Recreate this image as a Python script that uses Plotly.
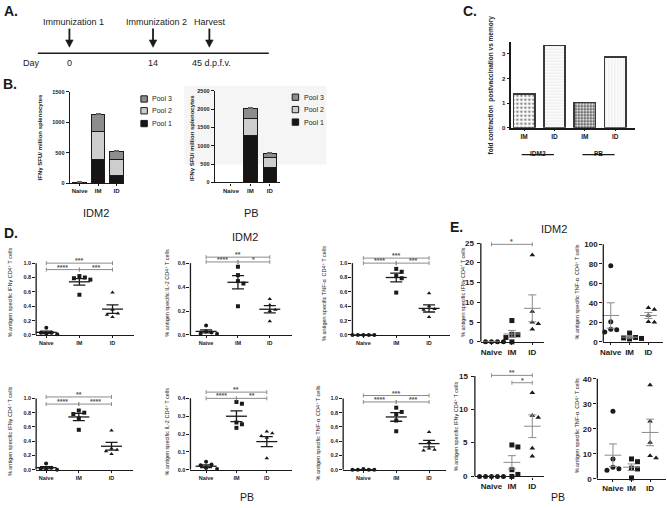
import numpy as np
import plotly.graph_objects as go

W, H = 667, 508
FONT = "Liberation Sans, Arial, sans-serif"
BLACK = "#1a1a1a"
GRAY = "#8c8c8c"

# ---------------- data ----------------
groups = ["Naive", "IM", "ID"]
pools = ["Pool 1", "Pool 2", "Pool 3"]

# Panel B: IFN-gamma SFU / million splenocytes, stacked by peptide pool
b_idm2_pool1 = [2, 395, 125]
b_idm2_pool2 = [1, 445, 270]
b_idm2_pool3 = [1, 280, 120]
b_idm2_err1 = [18, 108, 43]
b_idm2_err2 = [0, 38, 70]
b_idm2_err3 = [0, 28, 21]

b_pb_pool1 = [2, 1270, 420]
b_pb_pool2 = [1, 480, 270]
b_pb_pool3 = [1, 280, 100]
b_pb_err1 = [8, 125, 115]
b_pb_err2 = [0, 45, 20]
b_pb_err3 = [0, 20, 35]

# Panel C: fold contraction postvaccination vs memory
c_labels = ["IM", "ID", "IM", "ID"]
c_fold = [1.38, 3.35, 1.03, 2.87]
c_groups = ["IDM2", "PB"]

# Panel A: timeline
a_events = ["Immunization 1", "Immunization 2", "Harvest"]
a_days = ["0", "14", "45 d.p.f.v."]

# Panel D: % antigen specific CD4+ T cells (Naive, IM, ID)
d_idm2_ifng = [[0.10, 0.03, 0.03, 0.02, 0.01], [0.82, 0.80, 0.79, 0.77, 0.56], [0.59, 0.35, 0.30, 0.28, 0.25]]
d_idm2_ifng_mean = [0.037, 0.74, 0.36]
d_idm2_ifng_sem = [0.016, 0.045, 0.06]
d_idm2_ifng_sig = [(0, 2, 1.0, "***"), (0, 1, 0.91, "****"), (1, 2, 0.91, "***")]

d_idm2_il2 = [[0.08, 0.03, 0.02, 0.01, 0.01], [0.57, 0.50, 0.45, 0.43, 0.24], [0.30, 0.25, 0.21, 0.20, 0.115]]
d_idm2_il2_mean = [0.03, 0.44, 0.215]
d_idm2_il2_sem = [0.013, 0.055, 0.03]
d_idm2_il2_sig = [(0, 2, 0.65, "**"), (0, 1, 0.61, "****"), (1, 2, 0.61, "*")]

d_idm2_tnf = [[0, 0, 0, 0, 0], [0.92, 0.88, 0.82, 0.79, 0.59], [0.58, 0.40, 0.36, 0.35, 0.25]]
d_idm2_tnf_mean = [0.0, 0.80, 0.37]
d_idm2_tnf_sem = [0.0, 0.06, 0.05]
d_idm2_tnf_sig = [(0, 2, 1.07, "***"), (0, 1, 1.0, "****"), (1, 2, 1.0, "***")]

d_pb_ifng = [[0.09, 0.03, 0.02, 0.01, 0.0], [0.83, 0.80, 0.78, 0.72, 0.56], [0.55, 0.30, 0.28, 0.26, 0.22]]
d_pb_ifng_mean = [0.03, 0.74, 0.33]
d_pb_ifng_sem = [0.016, 0.05, 0.055]
d_pb_ifng_sig = [(0, 2, 1.02, "**"), (0, 1, 0.92, "****"), (1, 2, 0.92, "****")]

d_pb_il2 = [[0.045, 0.03, 0.025, 0.01, 0.005], [0.38, 0.37, 0.265, 0.255, 0.235], [0.215, 0.205, 0.19, 0.18, 0.065]]
d_pb_il2_mean = [0.02, 0.30, 0.158]
d_pb_il2_sem = [0.008, 0.03, 0.028]
d_pb_il2_sig = [(0, 2, 0.435, "**"), (0, 1, 0.40, "****"), (1, 2, 0.40, "**")]

d_pb_tnf = [[0.01, 0, 0, 0, 0], [0.87, 0.81, 0.78, 0.69, 0.54], [0.53, 0.39, 0.30, 0.28, 0.27]]
d_pb_tnf_mean = [0.002, 0.74, 0.367]
d_pb_tnf_sem = [0.002, 0.06, 0.046]
d_pb_tnf_sig = [(0, 2, 1.04, "***"), (0, 1, 0.95, "****"), (1, 2, 0.95, "***")]

# Panel E
e_idm2_ifng = [[0, 0, 0, 0, 0], [5.4, 1.9, 1.8, 1.1, 0.0], [22.0, 7.7, 5.0, 4.6, 3.2]]
e_idm2_ifng_mean = [0, 2.0, 8.5]
e_idm2_ifng_sem = [0, 0.9, 3.4]
e_idm2_ifng_sig = [(0, 2, 24.7, "*")]

e_idm2_tnf = [[78, 20.5, 13, 12.5, 10], [9, 4.5, 4, 3.5, 3], [35, 33, 27, 20.5, 20]]
e_idm2_tnf_mean = [27, 4.8, 27]
e_idm2_tnf_sem = [13, 1.1, 3]
e_idm2_tnf_sig = []

e_pb_ifng = [[0, 0, 0, 0, 0], [4.7, 4.4, 1.0, 0.3, 0.0], [12.5, 9.1, 8.8, 4.2, 3.0]]
e_pb_ifng_mean = [0, 2.1, 7.5]
e_pb_ifng_sem = [0, 1.0, 1.7]
e_pb_ifng_sig = [(0, 2, 15.1, "**"), (1, 2, 14.0, "*")]

e_pb_tnf = [[27, 7.9, 4.6, 4.0, 3.4], [7.9, 6.8, 4.2, 3.9, 0.3], [37.5, 23, 14.5, 9.2, 8.3]]
e_pb_tnf_mean = [9.4, 4.6, 18.5]
e_pb_tnf_sem = [4.5, 1.3, 5.3]
e_pb_tnf_sig = []

T_IFNG = "% antigen specific IFNγ CD4<sup>+</sup> T cells"
T_IL2 = "% antigen specific IL-2 CD4<sup>+</sup> T cells"
T_TNF = "% antigen specific TNF-α  CD4<sup>+</sup> T cells"

# ---------------- helpers ----------------
fig = go.Figure()
layout = dict(width=W, height=H, margin=dict(l=0, r=0, t=0, b=0),
              paper_bgcolor="white", plot_bgcolor="rgba(0,0,0,0)",
              showlegend=False, barmode="stack",
              font=dict(family=FONT, color=BLACK))
shapes, annots = [], []
counter = [0]


def px_x(p):
    return p / W


def px_y(p):
    return 1 - p / H


def add_axes(left, right, top, bottom, xrange, yrange, xkw, ykw):
    counter[0] += 1
    n = counter[0]
    s = "" if n == 1 else str(n)
    layout["xaxis" + s] = dict(domain=[px_x(left), px_x(right)], anchor="y" + s, range=xrange,
                               showgrid=False, zeroline=False, fixedrange=True, **xkw)
    layout["yaxis" + s] = dict(domain=[px_y(bottom), px_y(top)], anchor="x" + s, range=yrange,
                               showgrid=False, zeroline=False, fixedrange=True, **ykw)
    return "x" + s, "y" + s


def text(x, y, t, size, bold=False, angle=0, color=BLACK, xanchor="center", yanchor="middle"):
    annots.append(dict(x=px_x(x), y=px_y(y), xref="paper", yref="paper", text=t, showarrow=False,
                       textangle=angle, xanchor=xanchor, yanchor=yanchor,
                       font=dict(size=size, family=FONT, color=color,
                                 weight="bold" if bold else "normal")))


def swarm(values, ppu, unit, step):
    placed, offs = [], []
    cands = [0] + [s * j for j in range(1, 12) for s in (1, -1)]
    for v in values:
        y = v * ppu
        xo = 0
        for c in cands:
            xo = c * step
            if all((xo - a) ** 2 + (y - b) ** 2 >= 0.95 * step ** 2 for a, b in placed):
                break
        placed.append((xo, y))
        offs.append(xo / unit)
    return offs


# ---------------- Panel A ----------------
shapes.append(dict(type="line", xref="paper", yref="paper", x0=px_x(35), x1=px_x(267),
                   y0=px_y(51), y1=px_y(51), line=dict(color=BLACK, width=1.6)))
for ev, xa_, xt in zip(a_events, [66.7, 150.7, 207.3], [71, 154, 207.5]):
    shapes.append(dict(type="line", xref="paper", yref="paper", x0=px_x(xa_), x1=px_x(xa_),
                       y0=px_y(26), y1=px_y(39), line=dict(color=BLACK, width=1.8)))
    shapes.append(dict(type="path", xref="paper", yref="paper",
                       path="M {:.5f} {:.5f} L {:.5f} {:.5f} L {:.5f} {:.5f} Z".format(
                           px_x(xa_ - 3.8), px_y(37.5), px_x(xa_ + 3.8), px_y(37.5), px_x(xa_), px_y(45)),
                       fillcolor=BLACK, line=dict(color=BLACK, width=0.5)))
    text(xt, 19, ev, 9)
text(28.5, 61, "Day", 9)
for d, xd in zip(a_days, [66.7, 150.7, 209]):
    text(xd, 61, d, 9)

# ---------------- Panel B ----------------
pool_colors = ["#151515", "#cdcdcd", "#8d8d8d"]
shapes.append(dict(type="rect", xref="paper", yref="paper", layer="below",
                   x0=px_x(182), x1=px_x(325), y0=px_y(164), y1=px_y(84),
                   fillcolor="#f5f5f5", line=dict(width=0)))


def bar_panel(left, right, top, bottom, p0, p2, ymax, ystep, stacks, errs, bw, leg_x, leg_ys):
    unit = (p2 - p0) / 2.0
    xa, ya = add_axes(left, right, top, bottom, [(left - p0) / unit, (right - p0) / unit], [0, ymax],
                      dict(showline=True, linecolor=BLACK, linewidth=1.2, ticks="outside", ticklen=2,
                           tickcolor=BLACK, tickvals=[0, 1, 2], ticktext=groups,
                           tickfont=dict(size=6, family=FONT, weight="bold")),
                      dict(showline=True, linecolor=BLACK, linewidth=1.2, ticks="outside", ticklen=3,
                           tickcolor=BLACK, tickvals=list(range(0, ymax + 1, ystep)),
                           tickfont=dict(size=5.5, family=FONT, weight="bold")))
    for k in range(3):
        fig.add_trace(go.Bar(x=[0, 1, 2], y=stacks[k], width=bw, name=pools[k],
                             marker=dict(color=pool_colors[k], line=dict(color=BLACK, width=1)),
                             error_y=dict(type="data", array=errs[k], arrayminus=[0, 0, 0],
                                          symmetric=False, color="#666666", thickness=1, width=2.5),
                             xaxis=xa, yaxis=ya, hoverinfo="skip"))
    for k in range(3):
        yc = leg_ys[k]
        shapes.append(dict(type="rect", xref="paper", yref="paper",
                           x0=px_x(leg_x), x1=px_x(leg_x + 6.5), y0=px_y(yc + 3.2), y1=px_y(yc - 3.2),
                           fillcolor=pool_colors[k], line=dict(color=BLACK, width=1)))
        text(leg_x + 9.5, yc, pools[k], 7, xanchor="left")


bar_panel(67, 122, 90, 183, 77, 114, 1500, 500,
          [b_idm2_pool1, b_idm2_pool2, b_idm2_pool3], [b_idm2_err1, b_idm2_err2, b_idm2_err3],
          0.73, 138.5, [122.5, 109.5, 97.5])
bar_panel(212.7, 278, 89.3, 182.3, 229, 268, 2500, 500,
          [b_pb_pool1, b_pb_pool2, b_pb_pool3], [b_pb_err1, b_pb_err2, b_pb_err3],
          0.69, 290.5, [121, 108.3, 95.7])
text(36.7, 137, "IFNγ SFU/ million splenocytes", 6, bold=True, angle=-90)
text(190, 137, "IFNγ SFU/ million splenocytes", 6, bold=True, angle=-90)
text(93, 213, "IDM2", 11)
text(250, 213, "PB", 11)

# ---------------- Panel C ----------------
c_unit = 30.5
xa, ya = add_axes(510.7, 635, 39.3, 126.7, [(510.7 - 523.5) / c_unit, (635 - 523.5) / c_unit], [0, 3.5],
                  dict(showline=True, linecolor=BLACK, linewidth=1.5, ticks="outside", ticklen=2,
                       tickcolor=BLACK, tickvals=[0, 1, 2, 3], ticktext=c_labels,
                       tickfont=dict(size=6.5, family=FONT, weight="bold")),
                  dict(showline=True, linecolor=BLACK, linewidth=1.5, ticks="outside", ticklen=3,
                       tickcolor=BLACK, tickvals=[0, 1, 2, 3],
                       tickfont=dict(size=6, family=FONT, weight="bold")))
fig.add_trace(go.Bar(x=[0, 1, 2, 3], y=c_fold, width=0.7,
                     marker=dict(color=["#8a8a8a", "#ececec", "#333333", "#ececec"],
                                 line=dict(color="#3a3a3a", width=1.6),
                                 pattern=dict(shape=[".", "-", ".", "|"],
                                              fgcolor=["#d4d4d4", "#8f8f8f", "#f2f2f2", "#8a8a8a"],
                                              bgcolor=["#8a8a8a", "#ececec", "#2a2a2a", "#ececec"],
                                              size=[4, 3, 3, 3], solidity=[0.35, 0.5, 0.45, 0.45],
                                              fillmode="replace")),
                     xaxis=xa, yaxis=ya, hoverinfo="skip"))
for gi, g in enumerate(c_groups):
    cx = 2 * gi + 0.45
    annots.append(dict(x=cx, y=px_y(147), xref=xa, yref="paper", text=g, showarrow=False,
                       font=dict(size=6.5, family=FONT, weight="bold")))
    shapes.append(dict(type="line", xref=xa, yref="paper", x0=cx - 0.53, x1=cx + 0.53,
                       y0=px_y(154), y1=px_y(154), line=dict(color=BLACK, width=1.2)))
text(490, 83, "fold contraction  postvaccination vs memory", 6.5, bold=True, angle=-90)

# ---------------- Panels D & E ----------------
STYLE_D = dict(axw=1.3, xfs=5.5, yfs=5.5, fmt=".1f", ms=4, step=5.5, mw=15, mc=BLACK, mlw=1.3,
               cap=6, sfs=7, sshift=-3)
STYLE_E = dict(axw=1.3, xfs=8, yfs=8, fmt="d", ms=5, step=6, mw=12, mc="#8a8a8a", mlw=1,
               cap=4, sfs=7, sshift=-3)


def dot_panel(box, ytop, ystep, vals, means, sems, sig, ytitle, tpos, st, label_notes=False):
    left, right, top, bottom, p0, p2 = box
    unit = (p2 - p0) / 2.0
    ppu = (bottom - top) / ytop
    top_ext = top - 2
    for (a, b, yv, lab) in sig:
        top_ext = min(top_ext, bottom - yv * ppu - 9)
    ymax = (bottom - top_ext) / ppu
    xr = [(left - p0) / unit, (right - p0) / unit]
    ticks = [float(round(v, 6)) for v in np.arange(0, ytop + ystep / 2, ystep)]
    xa, ya = add_axes(left, right, top_ext, bottom, xr, [0, ymax],
                      dict(showline=True, linecolor=BLACK, linewidth=st["axw"], ticks="outside",
                           ticklen=2, tickwidth=1, tickcolor=BLACK, tickvals=[0, 1, 2], ticktext=groups,
                           tickfont=dict(size=st["xfs"], family=FONT, weight="bold")),
                      dict(showline=False, ticks="outside", ticklen=3, tickwidth=1, tickcolor=BLACK,
                           tickvals=ticks, tickformat=st["fmt"], showticklabels=not label_notes,
                           tickfont=dict(size=st["yfs"], family=FONT, weight="bold")))
    if label_notes:
        # tick labels written as notes beside the axis ticks
        for tv in ticks:
            annots.append(dict(x=px_x(left), y=px_y(bottom - tv * ppu), xref="paper", yref="paper",
                               text=format(tv, ".0f"), showarrow=False, xanchor="right",
                               yanchor="middle", xshift=-4.5,
                               font=dict(size=st["yfs"], family=FONT, color=BLACK, weight="bold")))
    shapes.append(dict(type="line", xref=xa + " domain", yref=ya, x0=0, x1=0, y0=0, y1=ytop,
                       line=dict(color=BLACK, width=st["axw"])))
    symbols = ["circle", "square", "triangle-up"]
    for i in range(3):
        offs = swarm(vals[i], ppu, unit, st["step"])
        fig.add_trace(go.Scatter(x=[i + o for o in offs], y=vals[i], mode="markers",
                                 marker=dict(symbol=symbols[i], size=st["ms"], color=BLACK),
                                 cliponaxis=False, xaxis=xa, yaxis=ya, hoverinfo="skip"))
    fig.add_trace(go.Scatter(x=[0, 1, 2], y=means, mode="markers",
                             marker=dict(symbol="line-ew", size=st["mw"], color=st["mc"],
                                         line=dict(width=st["mlw"], color=st["mc"])),
                             error_y=dict(type="data", array=sems, width=st["cap"],
                                          thickness=st["mlw"], color=st["mc"]),
                             cliponaxis=False, xaxis=xa, yaxis=ya, hoverinfo="skip"))
    tick = 2.0 / ppu
    for (a, b, yv, lab) in sig:
        shapes.append(dict(type="line", xref=xa, yref=ya, x0=a, x1=b, y0=yv, y1=yv,
                           line=dict(color=GRAY, width=1)))
        for xe in (a, b):
            shapes.append(dict(type="line", xref=xa, yref=ya, x0=xe, x1=xe, y0=yv - tick, y1=yv + tick,
                               line=dict(color=GRAY, width=1)))
        annots.append(dict(x=(a + b) / 2, y=yv, xref=xa, yref=ya, text=lab, showarrow=False,
                           yanchor="bottom", yshift=st["sshift"],
                           font=dict(size=st["sfs"], family=FONT, color="#555555", weight="bold")))
    text(tpos[0], tpos[1], ytitle, 5.5, bold=False, angle=-90)


dot_panel((33.3, 131.7, 264.3, 337.3, 43.5, 110), 1.0, 0.2, d_idm2_ifng, d_idm2_ifng_mean,
          d_idm2_ifng_sem, d_idm2_ifng_sig, T_IFNG, (7, 294), STYLE_D)
dot_panel((188.3, 290, 264.3, 337.3, 204, 268), 0.6, 0.2, d_idm2_il2, d_idm2_il2_mean,
          d_idm2_il2_sem, d_idm2_il2_sig, T_IL2, (165, 294), STYLE_D)
dot_panel((351, 449, 264.3, 337.3, 362, 428), 1.0, 0.2, d_idm2_tnf, d_idm2_tnf_mean,
          d_idm2_tnf_sem, d_idm2_tnf_sig, T_TNF, (323, 295), STYLE_D)
dot_panel((33.3, 131, 401.7, 474.3, 43.3, 109), 1.0, 0.2, d_pb_ifng, d_pb_ifng_mean,
          d_pb_ifng_sem, d_pb_ifng_sig, T_IFNG, (7, 435), STYLE_D)
dot_panel((188.3, 290, 401.7, 474.3, 204, 265), 0.4, 0.1, d_pb_il2, d_pb_il2_mean,
          d_pb_il2_sem, d_pb_il2_sig, T_IL2, (165, 435), STYLE_D)
dot_panel((341.7, 445, 401.7, 474.3, 362, 428), 1.0, 0.2, d_pb_tnf, d_pb_tnf_mean,
          d_pb_tnf_sem, d_pb_tnf_sig, T_TNF, (316.7, 437), STYLE_D)

dot_panel((480, 543, 244, 344.3, 490.7, 531.7), 25, 5, e_idm2_ifng, e_idm2_ifng_mean,
          e_idm2_ifng_sem, e_idm2_ifng_sig, T_IFNG, (461.7, 294), STYLE_E, label_notes=True)
dot_panel((603, 663, 245, 344.3, 610.5, 648.3), 100, 20, e_idm2_tnf, e_idm2_tnf_mean,
          e_idm2_tnf_sem, e_idm2_tnf_sig, T_TNF, (576.7, 294), STYLE_E)
dot_panel((474, 543, 379, 481, 490.7, 531.7), 15, 5, e_pb_ifng, e_pb_ifng_mean,
          e_pb_ifng_sem, e_pb_ifng_sig, T_IFNG, (455, 430), STYLE_E, label_notes=True)
dot_panel((597, 666, 381.7, 483.3, 612.7, 650), 40, 10, e_pb_tnf, e_pb_tnf_mean,
          e_pb_tnf_sem, e_pb_tnf_sig, T_TNF, (576.7, 430), STYLE_E)

text(243, 238, "IDM2", 11)
text(245, 502, "PB", 10.5)
text(553, 230, "IDM2", 11)
text(558, 502, "PB", 10.5)

# panel letters
for lab, (lx, ly) in {"A.": (8, 8), "B.": (7, 82), "C.": (469, 8), "D.": (8, 234), "E.": (456, 228)}.items():
    text(lx, ly, lab, 14, bold=True)

layout["shapes"] = shapes
layout["annotations"] = annots
fig.update_layout(**layout)
fig.write_html("out.html",
               post_script="document.body.style.margin='0px';document.body.style.padding='0px';",
               config={"displayModeBar": False})
